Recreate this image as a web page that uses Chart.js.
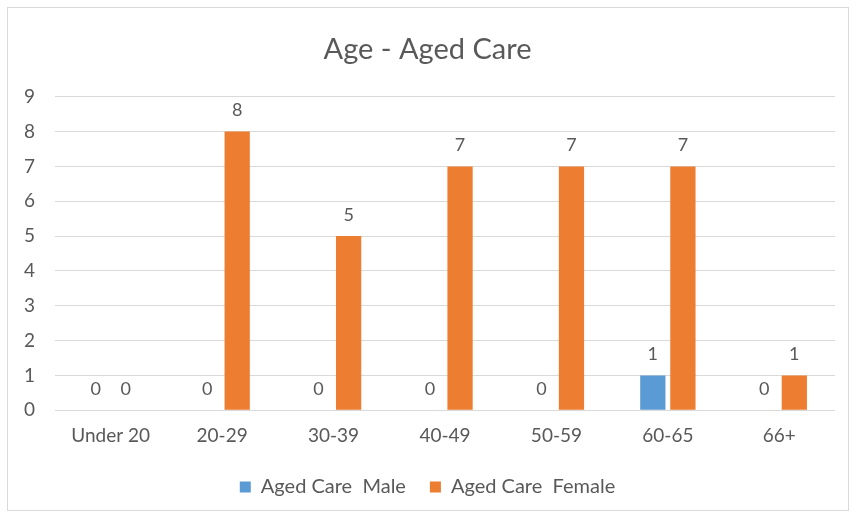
<!DOCTYPE html>
<html>
<head>
<meta charset="utf-8">
<script src="https://cdn.jsdelivr.net/npm/chart.js@4"></script>
<style>
  html, body { margin: 0; padding: 0; background: #ffffff; }
  #wrap { width: 853px; height: 517px; position: relative; }
</style>
</head>
<body>
<div id="wrap"><canvas id="c" width="853" height="517"></canvas></div>
<script>
const categories = ['Under 20', '20-29', '30-39', '40-49', '50-59', '60-65', '66+'];
const maleValues = [0, 0, 0, 0, 0, 1, 0];
const femaleValues = [0, 8, 5, 7, 7, 7, 1];
const yTicks = [0, 1, 2, 3, 4, 5, 6, 7, 8, 9];

const FONT = "Lato, 'Noto Sans', sans-serif";
const TEXT = '#595959';

// Light frame around the whole chart
const framePlugin = {
  id: 'frame',
  beforeDraw(chart) {
    const ctx = chart.ctx;
    ctx.save();
    ctx.fillStyle = '#ffffff';
    ctx.fillRect(0, 0, chart.width, chart.height);
    ctx.strokeStyle = '#d9d9d9';
    ctx.lineWidth = 1;
    ctx.strokeRect(7.5, 7.5, chart.width - 12, chart.height - 14);
    ctx.restore();
  }
};

// Value labels above each bar
const valueLabels = {
  id: 'valueLabels',
  afterDatasetsDraw(chart) {
    const ctx = chart.ctx;
    ctx.save();
    ctx.font = '18px ' + FONT;
    ctx.fillStyle = TEXT;
    ctx.textAlign = 'center';
    ctx.textBaseline = 'bottom';
    chart.data.datasets.forEach((ds, i) => {
      const meta = chart.getDatasetMeta(i);
      meta.data.forEach((bar, j) => {
        ctx.fillText(String(ds.data[j]), bar.x, bar.y - 12);
      });
    });
    ctx.restore();
  }
};

new Chart(document.getElementById('c'), {
  type: 'bar',
  data: {
    labels: categories,
    datasets: [
      { label: 'Aged Care  Male', data: maleValues, backgroundColor: '#5b9bd5', categoryPercentage: 0.54, barPercentage: 0.84 },
      { label: 'Aged Care  Female', data: femaleValues, backgroundColor: '#ed7d31', categoryPercentage: 0.54, barPercentage: 0.84 }
    ]
  },
  options: {
    responsive: false,
    animation: false,
    layout: { padding: { left: 20, right: 18, top: 24, bottom: 10 } },
    plugins: {
      title: {
        display: true,
        text: 'Age - Aged Care',
        color: TEXT,
        font: { family: FONT, size: 29, weight: 'normal' },
        padding: { top: 8, bottom: 30 }
      },
      legend: {
        position: 'bottom',
        labels: {
          color: TEXT,
          font: { family: FONT, size: 20 },
          boxWidth: 11,
          boxHeight: 11,
          padding: 24
        }
      },
      tooltip: { enabled: false }
    },
    scales: {
      x: {
        grid: { display: false },
        border: { display: false },
        ticks: { color: TEXT, font: { family: FONT, size: 19 }, padding: 6 }
      },
      y: {
        min: 0,
        max: 9,
        afterBuildTicks(axis) { axis.ticks = yTicks.map(v => ({ value: v })); },
        afterFit(axis) { axis.width = 35; },
        grid: { color: '#d9d9d9', lineWidth: 1, drawTicks: false },
        border: { display: false },
        ticks: { color: TEXT, font: { family: FONT, size: 19 }, padding: 20 }
      }
    }
  },
  plugins: [framePlugin, valueLabels]
});
</script>
</body>
</html>
